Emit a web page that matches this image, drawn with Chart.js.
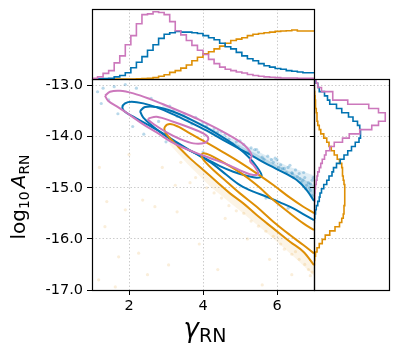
<!DOCTYPE html>
<html><head><meta charset="utf-8">
<script src="https://cdn.jsdelivr.net/npm/chart.js@4/dist/chart.umd.min.js"></script>
<style>
html,body{margin:0;padding:0;background:#fff;}
#wrap{position:relative;width:398px;height:354px;background:#fff;}
canvas{position:absolute;left:0;top:0;}
</style></head><body>
<div id="wrap">
<canvas id="cMain" width="398" height="354"></canvas>
<canvas id="cTop" width="398" height="354"></canvas>
<canvas id="cRight" width="398" height="354"></canvas>
</div>
<script>
// ---------------- DATA ----------------
const gammaTicks = [2, 4, 6];
const logATicks = [-17, -16, -15, -14, -13];
const gammaRange = [1, 7];
const logARange = [-17, -12.87];

// top marginal histogram (gamma_RN), 40 bins of width 0.15 from 1 to 7, relative heights (0-100)
const gammaBinCount = 40;
const topPink   = [0,1,3,8,12,23,33,49,62,79,92,93,96,95,92,82,69,63,55,48,41,35,28,22,17,14,12,10,8.5,6.5,5,4,3,2.5,2,1.5,1.5,1.5,1,1];
const topBlue   = [0,0,0.2,0.5,1,3,5,9,16,24,32,41,49,58,64,66,68,67,67,66,65,62,59,56,51,46,43,38,33,29,26,22,19,17,15,14,12,11,10,9];
const topOrange = [0,0,0,0,0,0,0,0,0,0.3,0.5,1,2,4,6,9.5,12,15.6,20,26,31,36,39,43,47,51,55,57,59,62,64,65,66,67,68,68.5,69,70,68.5,68.5];

// right marginal histogram (log10 A_RN), 50 bins listed from the top (-12.87) downwards, relative widths (0-100)
const logABinCount = 50;
const rightPink   = [1,3,5,10,25,25,45,73,86,95,95,86,77,61,47,38,27,21,16,14,11,9,7,5,4,3,2,1.5,1,1,0.5,0.5,0.5,0.3,0.3,0.3,0.2,0.2,0.2,0.2,0.1,0,0,0,0,0,0,0,0,0];
const rightBlue   = [1,2,5,7,14,18,21,30,37,46,52,58,61,62,62,60,55,50,45,40,35,30,26,24,20,17,13,10,8,7,5,3,2,1,0.5,0.3,0.3,0.2,0.2,0.1,0,0,0,0,0,0,0,0,0,0];
const rightOrange = [0,0,0,0.5,1,1.5,2,2,3,4,4,5,7,9,13,17,20,23,27,31,34,37,38,38,39,40,41,41,41,41,41,40,40,39,37,34,28,21,15,11,7,4,2,1,0.5,0.3,0.2,0.1,0,0];

// contours: [gamma, log10A]
const blueOuter = [[7.0,-15.259],[6.802,-15.043],[6.532,-14.848],[6.171,-14.698],[5.811,-14.567],[5.451,-14.424],[5.0,-14.241],[4.55,-14.065],[4.099,-13.882],[3.649,-13.719],[3.198,-13.563],[2.748,-13.426],[2.387,-13.347],[2.072,-13.315],[1.892,-13.347],[1.82,-13.426],[1.892,-13.511],[2.117,-13.608],[2.478,-13.752],[2.838,-13.902],[3.198,-14.065],[3.559,-14.228],[3.919,-14.378],[4.279,-14.541],[4.64,-14.75],[5.0,-14.946],[5.36,-15.076],[5.721,-15.174],[6.081,-15.285],[6.441,-15.402],[6.757,-15.533],[7.0,-15.631]];
const blueInner = [[2.297,-13.497],[2.432,-13.419],[2.748,-13.419],[3.198,-13.511],[3.649,-13.654],[4.099,-13.824],[4.55,-14.019],[4.91,-14.195],[5.225,-14.391],[5.451,-14.587],[5.586,-14.763],[5.451,-14.802],[5.18,-14.763],[4.82,-14.685],[4.46,-14.574],[4.099,-14.437],[3.739,-14.306],[3.378,-14.163],[3.018,-14.0],[2.658,-13.804],[2.387,-13.628],[2.297,-13.497]];
const orangeOuter = [[7.0,-15.494],[6.712,-15.37],[6.351,-15.193],[5.901,-14.946],[5.451,-14.717],[5.0,-14.502],[4.55,-14.306],[4.099,-14.117],[3.649,-13.935],[3.333,-13.804],[3.108,-13.752],[2.973,-13.804],[2.973,-13.902],[3.108,-14.032],[3.333,-14.195],[3.649,-14.424],[4.009,-14.652],[4.369,-14.88],[4.73,-15.109],[5.09,-15.304],[5.451,-15.533],[5.901,-15.794],[6.351,-16.055],[6.712,-16.25],[7.0,-16.511]];
const orangeInner = [[7.0,-15.826],[6.712,-15.696],[6.351,-15.5],[5.901,-15.239],[5.451,-14.946],[5.0,-14.698],[4.55,-14.502],[4.189,-14.359],[3.991,-14.326],[3.964,-14.391],[4.054,-14.489],[4.279,-14.652],[4.64,-14.88],[5.0,-15.109],[5.451,-15.37],[5.901,-15.663],[6.351,-15.924],[6.712,-16.12],[7.0,-16.283]];
const pinkOuter = [[1.351,-13.197],[1.487,-13.119],[1.757,-13.1],[2.117,-13.152],[2.568,-13.263],[3.018,-13.393],[3.468,-13.53],[3.919,-13.674],[4.369,-13.837],[4.82,-14.019],[5.135,-14.176],[5.315,-14.359],[5.27,-14.476],[5.378,-14.567],[5.495,-14.724],[5.36,-14.75],[5.09,-14.685],[4.73,-14.567],[4.369,-14.463],[3.919,-14.346],[3.468,-14.215],[3.108,-14.085],[2.748,-13.915],[2.387,-13.758],[2.027,-13.576],[1.712,-13.426],[1.441,-13.302],[1.351,-13.197]];
const pinkInner = [[2.523,-13.641],[2.748,-13.608],[3.198,-13.706],[3.649,-13.824],[4.009,-13.935],[4.144,-14.032],[4.054,-14.117],[3.739,-14.13],[3.378,-14.045],[3.018,-13.915],[2.703,-13.771],[2.523,-13.674],[2.523,-13.641]];

// scatter haze regions (outer faint band, inner dense band) and sample points
const blueHaze = [[2.9,-13.35],[3.3,-13.52],[3.92,-13.72],[4.82,-14.05],[5.72,-14.37],[6.26,-14.57],[7.0,-14.76],[7.0,-15.259],[6.802,-15.043],[6.532,-14.848],[6.171,-14.698],[5.811,-14.567],[5.451,-14.424],[5.0,-14.241],[4.55,-14.065],[4.099,-13.882],[3.649,-13.719],[3.198,-13.563],[2.9,-13.45]];
const blueHazeCore = [[4.3,-13.92],[5.0,-14.17],[5.5,-14.36],[6.0,-14.56],[6.5,-14.74],[7.0,-14.95],[7.0,-15.259],[6.802,-15.043],[6.532,-14.848],[6.171,-14.698],[5.811,-14.567],[5.451,-14.424],[5.0,-14.241],[4.55,-14.065],[4.3,-13.97]];
const orangeHaze = [[3.1,-14.15],[3.6,-14.55],[4.2,-14.98],[5.0,-15.45],[5.8,-15.93],[6.5,-16.38],[7.0,-16.72],[7.0,-16.511],[6.712,-16.25],[6.351,-16.055],[5.901,-15.794],[5.451,-15.533],[5.09,-15.304],[4.73,-15.109],[4.369,-14.88],[4.009,-14.652],[3.649,-14.424],[3.333,-14.195],[3.108,-14.032]];
const bluePoints = [[1.15,-13.12],[1.3,-13.05],[1.45,-13.28],[1.6,-13.02],[1.9,-12.98],[2.2,-13.05],[1.25,-13.35],[1.7,-13.55],[2.1,-13.8],[2.4,-13.95],[2.6,-13.25],[3.1,-13.4],[3.5,-13.55],[3.8,-13.62],[4.1,-13.78],[4.3,-13.85],[4.6,-13.95],[4.9,-14.1],[5.1,-14.15],[5.3,-14.22],[5.5,-14.3],[5.6,-14.4],[5.75,-14.38],[5.9,-14.5],[6.0,-14.45],[6.1,-14.55],[6.2,-14.62],[6.3,-14.6],[6.4,-14.7],[6.5,-14.65],[6.55,-14.78],[6.6,-14.72],[6.7,-14.85],[6.75,-14.8],[6.8,-14.95],[6.85,-14.9],[6.9,-15.05],[6.95,-14.85],[6.95,-15.15],[6.88,-15.0],[6.65,-14.9],[6.45,-14.8],[6.25,-14.7],[6.05,-14.6],[5.85,-14.45],[5.4,-14.25],[5.2,-14.3],[4.95,-14.2],[4.7,-14.05],[4.4,-13.9],[3.7,-13.75],[3.3,-13.6],[4.0,-14.3],[3.0,-14.1],[2.8,-13.7],[5.7,-15.2],[6.3,-15.4],[4.0,-13.72],[4.5,-13.9],[5.0,-14.08],[5.45,-14.25],[5.95,-14.42],[6.35,-14.56],[6.72,-14.7],[6.98,-14.8],[6.9,-14.92],[6.78,-15.02],[6.62,-14.82],[6.42,-14.72],[6.15,-14.62],[5.65,-14.44],[5.25,-14.32],[4.8,-14.14],[4.25,-13.93],[3.6,-13.66],[3.2,-13.49]];
const orangePoints = [[2.37,-15.24],[3.25,-14.95],[3.65,-14.9],[3.07,-16.51],[1.63,-16.94],[1.18,-16.8],[1.35,-15.76],[2.7,-15.37],[3.3,-15.47],[1.9,-15.43],[1.4,-15.27],[1.72,-16.35],[2.26,-16.28],[3.4,-14.5],[3.8,-14.8],[4.1,-15.0],[4.3,-15.1],[4.5,-15.2],[4.7,-15.35],[4.9,-15.45],[5.1,-15.5],[5.3,-15.65],[5.5,-15.75],[5.7,-15.85],[5.9,-15.95],[6.1,-16.1],[6.2,-16.2],[6.4,-16.3],[6.5,-16.25],[6.6,-16.4],[6.75,-16.5],[6.85,-16.6],[6.9,-16.72],[6.95,-16.65],[4.6,-15.6],[5.2,-16.0],[5.8,-16.4],[6.4,-16.7],[3.9,-16.1],[2.9,-14.6],[4.4,-16.6],[5.6,-16.9],[2.5,-16.7],[1.2,-14.6],[2.0,-14.35]];

// ---------------- STYLE ----------------
const BLUE = '#0173b2', ORANGE = '#de8f05', PINK = '#cc78bc';
const W = 398, H = 354;
const MAIN = {l:92, t:79, r:314, b:290};
const TOP = {l:92, t:9, r:314, b:79};
const RIGHT = {l:314, t:79, r:389, b:290};
const FONT = 'DejaVu Sans';
const GRID_COLOR = 'rgba(0,0,0,0.2)';
const GRID_DASH = [1.5, 2];

const xy = arr => arr.map(p => ({x:p[0], y:p[1]}));

function frame(color){
  return {
    id:'frame',
    afterDraw(chart){
      const {ctx, chartArea:a} = chart;
      ctx.save();
      ctx.strokeStyle = color || '#000';
      ctx.lineWidth = 1.2;
      ctx.strokeRect(Math.round(a.left)+0.5, Math.round(a.top)+0.5, Math.round(a.right-a.left), Math.round(a.bottom-a.top));
      ctx.restore();
    }
  };
}

const hazePlugin = {
  id:'haze',
  beforeDatasetsDraw(chart){
    const {ctx, chartArea:a, scales:{x, y}} = chart;
    ctx.save();
    ctx.beginPath(); ctx.rect(a.left, a.top, a.right-a.left, a.bottom-a.top); ctx.clip();
    [[blueHaze,'rgba(1,115,178,0.13)'],[blueHazeCore,'rgba(1,115,178,0.18)'],[orangeHaze,'rgba(222,143,5,0.10)']].forEach(([poly,col])=>{
      ctx.beginPath();
      poly.forEach((p,i)=>{ const px=x.getPixelForValue(p[0]), py=y.getPixelForValue(p[1]); i?ctx.lineTo(px,py):ctx.moveTo(px,py); });
      ctx.closePath(); ctx.fillStyle=col; ctx.fill();
    });
    ctx.restore();
  }
};

function drawParts(ctx, parts, x, y){
  let w = 0;
  parts.forEach(p => { ctx.font = p.f; p.w = ctx.measureText(p.t).width + (p.dx||0); w += p.w; });
  let cx = x - w/2;
  parts.forEach(p => { ctx.font = p.f; ctx.fillText(p.t, cx, y + (p.dy||0)); cx += p.w; });
}

const labelPlugin = {
  id:'labels',
  afterDraw(chart){
    const ctx = chart.ctx;
    ctx.save();
    ctx.fillStyle = '#000';
    ctx.textBaseline = 'alphabetic';
    drawParts(ctx, [
      {t:'γ', f:`italic 26px "${FONT}"`},
      {t:'RN', f:`19px "${FONT}"`, dy:4.5}
    ], (MAIN.l+MAIN.r)/2 + 2, 337);
    ctx.translate(25, 197);
    ctx.rotate(-Math.PI/2);
    drawParts(ctx, [
      {t:'log', f:`20px "${FONT}"`},
      {t:'10', f:`14px "${FONT}"`, dy:4, dx:3},
      {t:'A', f:`italic 20px "${FONT}"`},
      {t:'RN', f:`14px "${FONT}"`, dy:4}
    ], 0, 0);
    ctx.restore();
  }
};

function fixTicks(vals){ return scale => { scale.ticks = vals.map(v => ({value:v})); }; }

// ---------------- MAIN PANEL ----------------
const contour = (arr, col) => ({data: xy(arr), showLine:true, pointRadius:0, borderColor:col, borderWidth:2, tension:0.35, fill:false});
const points = (arr, col) => ({data: xy(arr), showLine:false, pointRadius:1.6, pointBorderWidth:0, backgroundColor:col});

new Chart(document.getElementById('cMain'), {
  type:'scatter',
  data:{datasets:[
    Object.assign(contour(pinkInner, PINK), {order:0}),
    Object.assign(contour(pinkOuter, PINK), {order:1}),
    Object.assign(contour(orangeInner, ORANGE), {order:2}),
    Object.assign(contour(orangeOuter, ORANGE), {order:3}),
    Object.assign(contour(blueInner, BLUE), {order:4}),
    Object.assign(contour(blueOuter, BLUE), {order:5}),
    Object.assign(points(bluePoints, 'rgba(1,115,178,0.28)'), {order:6}),
    Object.assign(points(orangePoints, 'rgba(222,143,5,0.15)'), {order:7})
  ]},
  options:{
    responsive:false, animation:false, events:[],
    layout:{padding:{left:0, top:MAIN.t, right:W-MAIN.r, bottom:0}},
    plugins:{legend:{display:false}, tooltip:{enabled:false}},
    scales:{
      x:{type:'linear', min:gammaRange[0], max:gammaRange[1],
         afterBuildTicks: fixTicks(gammaTicks),
         afterFit: s => { s.height = H - MAIN.b; },
         ticks:{color:'#000', font:{family:FONT, size:14.5}, padding:3, maxRotation:0},
         grid:{color:GRID_COLOR, tickColor:'#000', tickLength:5, tickWidth:1},
         border:{display:false, dash:GRID_DASH}},
      y:{type:'linear', min:logARange[0], max:logARange[1],
         afterBuildTicks: fixTicks(logATicks),
         afterFit: s => { s.width = MAIN.l; },
         ticks:{color:'#000', font:{family:FONT, size:14.5}, padding:4, callback:v => v.toFixed(1)},
         grid:{color:GRID_COLOR, tickColor:'#000', tickLength:5, tickWidth:1},
         border:{display:false, dash:GRID_DASH}}
    }
  },
  plugins:[hazePlugin, frame('#000'), labelPlugin]
});

// ---------------- MARGINAL PANELS ----------------
const stepDS = (data, col, stepped) => ({data, showLine:true, stepped, pointRadius:0, borderColor:col, borderWidth:1.6, fill:false});

function topSteps(vals){
  const w = (gammaRange[1]-gammaRange[0]) / gammaBinCount;
  const pts = vals.map((v,i) => ({x: gammaRange[0] + w*i, y:v}));
  pts.push({x: gammaRange[1], y: vals[vals.length-1]});
  return pts;
}
function rightSteps(vals){
  const w = (logARange[1]-logARange[0]) / logABinCount;
  const pts = vals.map((v,j) => ({x:v, y: logARange[1] - w*j}));
  pts.push({x: vals[vals.length-1], y: logARange[0]});
  return pts;
}

const hiddenAxisBase = {ticks:{display:false}, border:{display:false, dash:GRID_DASH}};

new Chart(document.getElementById('cTop'), {
  type:'scatter',
  data:{datasets:[
    stepDS(topSteps(topPink), PINK, 'after'),
    stepDS(topSteps(topBlue), BLUE, 'after'),
    stepDS(topSteps(topOrange), ORANGE, 'after')
  ]},
  options:{
    responsive:false, animation:false, events:[],
    layout:{padding:{left:TOP.l, top:TOP.t, right:W-TOP.r, bottom:H-TOP.b}},
    plugins:{legend:{display:false}, tooltip:{enabled:false}},
    scales:{
      x:Object.assign({type:'linear', min:gammaRange[0], max:gammaRange[1],
         afterBuildTicks: fixTicks(gammaTicks), afterFit: s => { s.height = 0; },
         grid:{color:GRID_COLOR, drawTicks:false}}, hiddenAxisBase),
      y:Object.assign({type:'linear', min:0, max:100, afterFit: s => { s.width = 0; },
         grid:{display:false}}, hiddenAxisBase)
    }
  },
  plugins:[frame('#000')]
});

new Chart(document.getElementById('cRight'), {
  type:'scatter',
  data:{datasets:[
    stepDS(rightSteps(rightPink), PINK, 'before'),
    stepDS(rightSteps(rightBlue), BLUE, 'before'),
    stepDS(rightSteps(rightOrange), ORANGE, 'before')
  ]},
  options:{
    responsive:false, animation:false, events:[],
    layout:{padding:{left:RIGHT.l, top:RIGHT.t, right:W-RIGHT.r, bottom:H-RIGHT.b}},
    plugins:{legend:{display:false}, tooltip:{enabled:false}},
    scales:{
      x:Object.assign({type:'linear', min:0, max:100, afterFit: s => { s.height = 0; },
         grid:{display:false}}, hiddenAxisBase),
      y:Object.assign({type:'linear', min:logARange[0], max:logARange[1],
         afterBuildTicks: fixTicks(logATicks), afterFit: s => { s.width = 0; },
         grid:{color:GRID_COLOR, drawTicks:true, tickLength:4, tickColor:'#000', tickWidth:1}}, hiddenAxisBase)
    }
  },
  plugins:[frame('#000')]
});
</script>
</body></html>
